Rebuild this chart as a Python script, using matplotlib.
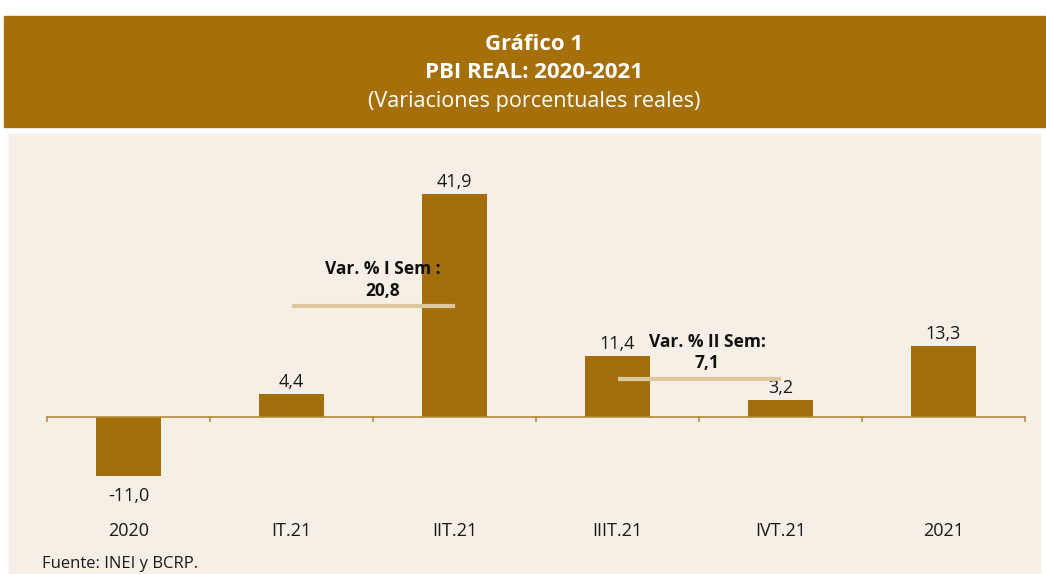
import matplotlib
matplotlib.use("Agg")
import matplotlib.pyplot as plt
from matplotlib.patches import Rectangle

categories = ["2020", "IT.21", "IIT.21", "IIIT.21", "IVT.21", "2021"]
values = [-11.0, 4.4, 41.9, 11.4, 3.2, 13.3]
labels = ["-11,0", "4,4", "41,9", "11,4", "3,2", "13,3"]
sem_values = [20.8, 7.1]
sem_labels = ["Var. % I Sem :\n20,8", "Var. % II Sem:\n7,1"]
sem_spans = [(1, 2), (3, 4)]

plt.rcParams['font.family'] = ['Open Sans', 'DejaVu Sans']

W, H = 1046, 574
fig = plt.figure(figsize=(W / 100, H / 100), dpi=100)
fig.patch.set_facecolor("white")

bar_color = "#A36F0A"
head_color = "#A57009"
beige = "#F5EFE5"
line_color = "#DDC9A0"

def fy(py):
    return 1 - py / H

# header band
fig.patches.append(Rectangle((4 / W, fy(127)), (W - 4) / W, 111 / H,
                             transform=fig.transFigure, color=head_color, zorder=-2))
# beige band
fig.patches.append(Rectangle((9 / W, 0), 1031 / W, fy(134),
                             transform=fig.transFigure, color=beige, zorder=-2))

cx = 534 / W
fig.text(cx, fy(44), "Gráfico 1", ha="center", va="center", color="white",
         fontsize=16, fontweight="bold")
fig.text(cx, fy(73), "PBI REAL: 2020-2021", ha="center", va="center", color="white",
         fontsize=16, fontweight="bold")
fig.text(cx, fy(102), "(Variaciones porcentuales reales)", ha="center", va="center",
         color="white", fontsize=15.5)

# axes: x 47..1025 px, y 150..480 px
ax_left, ax_right = 47, 1025
ax_top, ax_bot = 150, 480
ax = fig.add_axes([ax_left / W, fy(ax_bot), (ax_right - ax_left) / W, (ax_bot - ax_top) / H])
ax.set_facecolor("none")
for s in ax.spines.values():
    s.set_visible(False)

x = list(range(len(categories)))
ax.bar(x, values, width=0.4, color=bar_color, zorder=2)
ax.set_xlim(-0.5, len(categories) - 0.5)
ax.set_ylim(-11.82, 50.1)
ax.axhline(0, color="#B58A3C", lw=1.2, zorder=3)
ax.set_yticks([])
ax.set_xticks([])
for i in range(len(categories) + 1):
    ax.plot([i - 0.5, i - 0.5], [0, -0.7], color="#B58A3C", lw=1.2, zorder=3, clip_on=False)

for i, (v, lab) in enumerate(zip(values, labels)):
    if v >= 0:
        ax.annotate(lab, (i, v), xytext=(0, 2), textcoords="offset points",
                    ha="center", va="bottom", fontsize=13, color="#1a1a1a")
    else:
        ax.annotate(lab, (i, v), xytext=(0, -8), textcoords="offset points",
                    ha="center", va="top", fontsize=13, color="#1a1a1a")
    ax.annotate(categories[i], (i, 0), xycoords=("data", "axes fraction"),
                xytext=(0, -37), textcoords="offset points",
                ha="center", va="center", fontsize=13, color="#1a1a1a")

for (a, b), v in zip(sem_spans, sem_values):
    ax.plot([a, b], [v, v], color=line_color, lw=3, solid_capstyle="butt", zorder=4)

ax.text(1.56, 22.0, sem_labels[0], ha="center", va="bottom", fontsize=12.5,
        fontweight="bold", color="#111111", linespacing=1.25, zorder=5)
ax.text(3.55, 8.4, sem_labels[1], ha="center", va="bottom", fontsize=12.5,
        fontweight="bold", color="#111111", linespacing=1.25, zorder=5)

fig.text(42 / W, fy(564), "Fuente: INEI y BCRP.", ha="left", va="center",
         fontsize=12, color="#1a1a1a")

fig.savefig("out.png", dpi=100)
